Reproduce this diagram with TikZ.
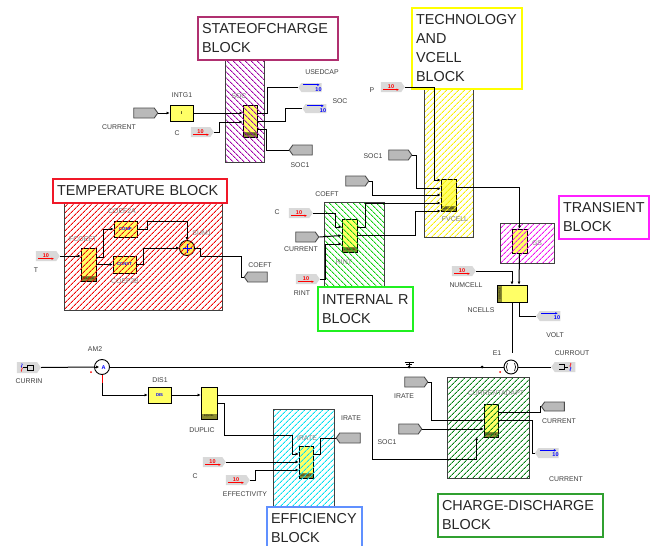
\documentclass[tikz,border=0pt]{standalone}
\usepackage{fontspec}
\setmainfont{Liberation Sans}
\usetikzlibrary{arrows.meta,patterns.meta,shapes.symbols,calc}
\definecolor{txtgray}{gray}{0.25}
\definecolor{boxyel}{HTML}{FFFF66}
\definecolor{footol}{HTML}{8A8A30}
\definecolor{tsocc}{HTML}{B03070}
\definecolor{ttemc}{HTML}{F01828}
\definecolor{ttecc}{HTML}{FFFF00}
\definecolor{trinc}{HTML}{20F020}
\definecolor{ttrac}{HTML}{FF20FF}
\definecolor{teffc}{HTML}{6090FF}
\definecolor{tchac}{HTML}{30A030}
\definecolor{hsocc}{HTML}{A000A8}
\definecolor{htemc}{HTML}{F00000}
\definecolor{hrinc}{HTML}{10D010}
\definecolor{htecc}{HTML}{F8F000}
\definecolor{htrac}{HTML}{F010F0}
\definecolor{heffc}{HTML}{00E0F0}
\definecolor{hchac}{HTML}{008010}
\tikzset{
  x=1pt,y=-1pt,
  wire/.style={draw=black,line width=1pt},
  awire/.style={wire,-{Latex[length=3pt,width=3pt]}},
  lab/.style={font=\fontsize{6.9}{8}\selectfont,text=txtgray,inner sep=0pt},
  hlab/.style={font=\fontsize{6.9}{8}\selectfont,text=black!50,inner sep=0pt},
  ybox/.style={draw=black,line width=0.9pt,fill=boxyel,inner sep=0pt,
     font=\fontsize{4.2}{5}\selectfont\bfseries,text=blue},
  foot/.style={fill=footol,inner sep=0pt,font=\fontsize{2.6}{3}\selectfont,text=black},
  hatch/.style={draw=black!75,line width=1pt,inner sep=0pt,
     pattern={Lines[angle=#1,distance=4pt,line width=0.9pt]}},
  title/.style={fill=white,line width=1.4pt,inner sep=0pt,align=left,
     font=\fontsize{14.4}{19}\selectfont,text=black!85},
  tagbase/.style={shape=signal,signal from=nowhere,inner sep=0pt,
     minimum width=24pt,minimum height=10pt,signal pointer angle=110},
  tagr/.style={tagbase,signal to=east,draw=black!70,fill=gray!55,line width=0.9pt},
  tagl/.style={tagbase,signal to=west,draw=black!70,fill=gray!55,line width=0.9pt},
  src/.style={tagbase,signal to=east,fill=gray!30,text=red,
     font=\fontsize{5.5}{6}\selectfont\bfseries,
     path picture={\draw[red,line width=0.8pt,-{Latex[length=2.5pt,width=2.5pt]}]
        ([xshift=2.3pt,yshift=-2.7pt]path picture bounding box.west) -- ++(16,0);}},
  sink/.style={tagbase,signal to=west,fill=gray!30,text=blue,
     font=\fontsize{5.5}{6}\selectfont\bfseries,
     path picture={\draw[blue,line width=0.8pt,-{Latex[length=2.5pt,width=2.5pt]}]
        ([xshift=5pt,yshift=2.7pt]path picture bounding box.west) -- ++(16.5,0);}},
  meter/.style={shape=circle,draw=black,line width=0.9pt,fill=white,inner sep=0pt,minimum size=15pt},
  dotj/.style={shape=circle,fill=black,inner sep=0pt,minimum size=3pt},
  dotr/.style={shape=circle,fill=red,inner sep=0pt,minimum size=2pt},
}
\newcommand\bx[7][]{%
  \pgfmathsetmacro\bxW{#5-#3}\pgfmathsetmacro\bxH{#6-#4}%
  \pgfmathsetmacro\bxX{(#5+#3)/2}\pgfmathsetmacro\bxY{(#6+#4)/2}%
  \node[#1,minimum width=\bxW pt,minimum height=\bxH pt] (#2) at (\bxX,\bxY) {#7};}
\newcommand\srcten{\smash{\raisebox{-1.4pt}{10}}\hspace{13pt}}
\newcommand\sinkten{\hspace{14pt}\smash{\raisebox{-3.7pt}{10}}}
\begin{document}
\begin{tikzpicture}
\useasboundingbox (0,0) rectangle (651,546);
\fill[white] (0,0) rectangle (651,546);
% yellow boxes
\bx[ybox]{intg}{170}{105}{193}{121}{\color{black}I}
\bx[ybox]{socb}{243}{105}{257}{137}{}
\bx[foot]{socf}{244}{132}{256.5}{136.5}{SOURCE}
\bx[ybox]{fco}{81}{248}{96}{281}{}
\bx[foot]{fcof}{81.5}{276}{95.5}{280.5}{SOURCE}
\bx[ybox]{c2a}{114}{221}{137}{237}{COMP}
\bx[ybox]{c2b}{113}{256}{136}{273}{CONST}
\node[meter,fill=boxyel!85!orange,minimum size=15pt] (sum) at (187,248) {};
\bx[ybox]{rint}{342}{219}{357}{252}{}
\bx[foot]{rintf}{342.5}{247}{356.5}{251.5}{SOURCE}
\bx[ybox]{fv}{441}{179}{456}{211}{}
\bx[foot]{fvf}{441.5}{206}{455.5}{210.5}{SOURCE}
\bx[ybox]{gs}{512}{229}{527}{253}{}
\bx[ybox]{ncells}{497}{285}{527}{302}{}
\bx[foot]{ncf}{497.5}{285.5}{502}{301.5}{}
\node[foot,rotate=90] (nct) at (499.8,293.5) {SOURCE};
\bx[ybox]{dis}{148}{387}{171}{403}{DIS}
\bx[ybox]{dup}{201}{387}{217}{419}{}
\bx[foot]{dupf}{201.5}{414}{216.5}{418.5}{EQU BL}
\bx[ybox]{irb}{299}{446}{313}{478}{}
\bx[foot]{irf}{299.5}{473}{312.5}{477.5}{SOURCE}
\bx[ybox]{cub}{484}{404}{498}{437}{}
\bx[foot]{cuf}{484.5}{432}{497.5}{436.5}{SOURCE}
% hatched blocks
\bx[hatch=-45,pattern color=hsocc]{hsoc}{225}{60}{264}{162}{}
\bx[hatch=45,pattern color=htemc]{htem}{64}{203}{222}{310}{}
\bx[hatch=-45,pattern color=hrinc]{hrin}{324}{202}{384}{287}{}
\bx[hatch=45,pattern color=htecc]{htec}{424}{89}{473}{237}{}
\bx[hatch=45,pattern color=htrac]{htra}{500}{223}{554}{263}{}
\bx[hatch=45,pattern color=heffc]{heff}{273}{409}{334}{507}{}
\bx[hatch=45,pattern color=hchac]{hcha}{447}{377}{529}{478}{}
% labels on hatching
\node[hlab] (lsoc) at (239,96) {SOC};
\node[hlab] (lc2a) at (122,211) {COEF2A};
\node[hlab] (lfco) at (83,239) {FCOEFT};
\node[hlab] (lc2b) at (125,281) {COEF2B};
\node[hlab] (lsum) at (202,233) {SUM1};
\node[hlab] (lrint) at (344,262) {RINT};
\node[hlab] (lfv) at (455,219) {FVCELL};
\node[hlab] (lgs) at (537,243) {GS};
\node[hlab] (lira) at (307,438) {IRATE};
\node[hlab] (lcur) at (496,393) {CURRENTADAPT};
% title boxes
\bx[title,draw=tsocc,text width=132pt]{tsoc}{198}{17}{338}{60}{STATEOFCHARGE\\BLOCK}
\bx[title,draw=ttemc,text width=166pt]{ttem}{53}{179}{227}{203}{TEMPERATURE BLOCK}
\bx[title,draw=ttecc,text width=102pt]{ttec}{412}{8}{522}{89}{TECHNOLOGY\\AND\\VCELL\\BLOCK}
\bx[title,draw=trinc,text width=87pt]{trin}{318}{287}{413}{331}{INTERNAL R\\BLOCK}
\bx[title,draw=ttrac,text width=82pt]{ttra}{559}{196}{649}{239}{TRANSIENT\\BLOCK}
\bx[title,draw=teffc,text width=87pt]{teff}{267}{507}{362}{550}{EFFICIENCY\\BLOCK}
\bx[title,draw=tchac,text width=157pt]{tcha}{438}{494}{603}{537}{CHARGE-DISCHARGE\\BLOCK}
% tags
\bx[tagr]{tcur}{132}{108}{156}{118}{}
\bx[src]{sc1}{189}{127}{212}{137}{\srcten}
\bx[sink]{susd}{300}{83}{323}{92}{\sinkten}
\bx[sink]{ssoc}{304}{104}{328}{113}{\sinkten}
\bx[tagl]{tsoc1}{291}{145}{314}{155}{}
\bx[src]{st}{34}{251}{58}{261}{\srcten}
\bx[tagl]{tcoe}{246}{272}{269}{282}{}
\bx[src]{sc2}{287}{208}{311}{218}{\srcten}
\bx[tagr]{tcur2}{294}{232}{317}{242}{}
\bx[src]{srin}{294}{274}{318}{284}{\srcten}
\bx[tagr]{tsoc2}{387}{150}{410}{160}{}
\bx[tagr]{tcoe2}{344}{176}{367}{186}{}
\bx[src]{sp}{379}{82}{403}{92}{\srcten}
\bx[src]{snum}{450}{266}{474}{276}{\srcten}
\bx[sink]{svol}{538}{311}{562}{321}{\sinkten}
\bx[src]{sc3}{201}{457}{224}{467}{\srcten}
\bx[src]{seff}{224}{475}{248}{485}{\srcten}
\bx[tagl]{tira}{338}{433}{362}{443}{}
\bx[tagr]{tira2}{403}{377}{426}{387}{}
\bx[tagr]{tsoc3}{397}{424}{420}{434}{}
\bx[tagl]{tcur3}{543}{402}{566}{411}{}
\bx[sink]{scur}{537}{448}{560}{458}{\sinkten}
\bx[src,path picture={}]{pin}{15}{362}{39}{373}{}
\bx[sink,path picture={}]{pout}{553}{362}{577}{372}{}
% meters
\node[meter] (am) at (102,367) {};
\node[meter,minimum size=14pt] (e1) at (511,367) {};
\node[dotr] (r1) at (91,372) {};
\node[dotr] (r2) at (500,372) {};
\node[font=\fontsize{5.5}{6}\selectfont\bfseries,text=blue,inner sep=0pt] (ama) at (103.5,368) {A};
\draw[line width=0.8pt,-{Latex[length=3pt,width=3pt]}] (am.west) -- ++(5,0);
\draw[line width=0.6pt] (e1.center) ++(-3.5,4) arc (150:210:8);
\draw[line width=0.6pt] (e1.center) ++(3.5,4) arc (30:-30:8);
\draw[blue,line width=0.6pt] ([yshift=-4.5pt]sum.center) -- ([yshift=4.5pt]sum.center);
\draw[blue,line width=0.6pt] ([xshift=-4.5pt]sum.center) -- ([xshift=4.5pt]sum.center);
% port glyphs
\draw[line width=0.7pt] ([xshift=11pt]pin.west) -- ++(0,-2.5) -- ++(6,0) -- ++(0,5) -- ++(-6,0) -- cycle;
\draw[line width=0.7pt] ([xshift=6pt]pin.west) -- ([xshift=11pt]pin.west);
\draw[blue,line width=0.6pt] ([xshift=5pt,yshift=4pt]pin.west) .. controls ++(2,1) and ++(-2,-1) .. ([xshift=5pt]pin.west);
\draw[red,line width=0.6pt] ([xshift=5pt]pin.west) .. controls ++(2,1) and ++(-2,-1) .. ([xshift=5pt,yshift=-4pt]pin.west);
\draw[line width=0.7pt] ([xshift=-11pt]pout.east) -- ++(0,-2.5) -- ++(-5,0);
\draw[line width=0.7pt] ([xshift=-11pt]pout.east) -- ++(0,2.5) -- ++(-5,0);
\draw[line width=0.7pt] ([xshift=-11pt]pout.east) -- ([xshift=-7pt]pout.east);
\draw[red,line width=0.6pt] ([xshift=-5pt,yshift=4pt]pout.east) .. controls ++(2,1) and ++(-2,-1) .. ([xshift=-5pt]pout.east);
\draw[blue,line width=0.6pt] ([xshift=-5pt]pout.east) .. controls ++(2,1) and ++(-2,-1) .. ([xshift=-5pt,yshift=-4pt]pout.east);
% state of charge wires
\draw[awire] (tcur.east) -- (intg.west);
\draw[awire] (intg.east) -- ([yshift=8pt]socb.west);
\draw[awire] (sc1.east) -- ++(6,0) |- ([yshift=-1pt]socb.west);
\draw[wire] ([yshift=8pt]socb.east) -- ++(10,0) |- (susd.west);
\draw[wire] (socb.east) -- ++(28,0) |- (ssoc.west);
\draw[wire] ([yshift=-8pt]socb.east) -- ++(9,0) |- (tsoc1.west);
% temperature wires
\draw[awire] (st.east) -- ([yshift=8.5pt]fco.west);
\draw[awire] ([yshift=7.5pt]fco.east) -- ++(7,0) |- (c2a.west);
\draw[awire] (fco.east) -- (c2b.west);
\draw[awire] (c2a.east) -- ++(10,0) -- ++(0,-8) -| (sum.north);
\draw[awire] (c2b.east) -- ++(7,0) |- (sum.west);
\draw[wire] (sum.east) -- ++(6,0) -- ++(0,8) -- ++(41,0) |- (tcoe.west);
% internal R wires
\draw[awire] (sc2.east) -- ++(23,0) |- ([yshift=8.5pt]rint.west);
\draw[awire] (tcur2.east) -- (rint.west);
\draw[awire] (srin.east) -- ++(6,0) |- ([yshift=-8.5pt]rint.west);
% technology wires
\draw[awire] (sp.east) -- ++(30,0) |- ([yshift=15pt]fv.west);
\draw[awire] (tsoc2.east) -- ++(4,0) |- ([yshift=6.3pt]fv.west);
\draw[awire] (tcoe2.east) -- ++(3,0) |- (fv.west);
\draw[awire] ([yshift=8.5pt]rint.east) -- ++(8,0) |- ([yshift=-8pt]fv.west);
\draw[awire] (rint.east) -- ++(58,0) |- ([yshift=-16pt]fv.west);
% transient wires
\draw[awire] ([yshift=8pt]fv.east) -| (gs.north);
\draw[awire] (gs.south) -- ([xshift=7pt]ncells.north);
\draw[awire] (snum.east) -| (ncells.north);
\draw[wire,shorten >=7pt] (ncells.south) -- (ncells.south |- e1.north);
\draw[wire] ([xshift=7pt]ncells.south) |- (svol.west);
% power line
\draw[wire] (pin.east) -- (am.west);
\draw[wire] (am.east) -- (e1.west);
\draw[wire] (e1.east) -- (pout.west);
\node[dotj] (j1) at (409,367) {};
\node[dotj] (j2) at (482,367) {};
\draw[wire] (j1.center) -- ++(0,-5);
\draw[wire] ($(j1.center)+(-4.5,-5)$) -- ++(9,0);
\draw[wire] ($(j1.center)+(-3,-3)$) -- ++(6,0);
% distribution wires
\draw[awire] ([yshift=-8pt]am.south) |- (dis.west);
\draw[line width=1pt,red] (am.south) -- ++(0,8);
\draw[awire] (dis.east) -- ([yshift=8pt]dup.west);
\draw[awire] ([yshift=8pt]dup.east) -- ++(155,0) -- ++(0,64) -| ([xshift=-7pt,yshift=-16.5pt]cub.west);
\draw[awire] (dup.east) -- ++(7,0) -- ++(0,32) -- ++(68,0) |- ([yshift=8pt]irb.west);
\draw[awire] (sc3.east) -- (irb.west);
\draw[awire] (seff.east) -- ++(6,0) |- ([yshift=-8pt]irb.west);
\draw[wire] ([yshift=8pt]irb.east) -- ++(7,0) |- (tira.west);
% charge wires
\draw[awire] (tira2.east) -- ++(3,0) |- (cub.west);
\draw[awire] (tsoc3.east) -- (cub.west |- tsoc3.east);
\draw[wire] ([yshift=8.5pt]cub.east) -- ++(42,0) |- (tcur3.west);
\draw[wire] (cub.east) -- ++(34,0) |- (scur.west);
% plain labels
\node[lab] (a1) at (182,95) {INTG1};
\node[lab] (a2) at (119,127) {CURRENT};
\node[lab] (a3) at (177,133) {C};
\node[lab] (a4) at (322,72) {USEDCAP};
\node[lab] (a5) at (340,101) {SOC};
\node[lab] (a6) at (300,165) {SOC1};
\node[lab] (a7) at (36,270) {T};
\node[lab] (a8) at (260,265) {COEFT};
\node[lab] (a9) at (327,194) {COEFT};
\node[lab] (a10) at (277,212) {C};
\node[lab] (a11) at (301,249) {CURRENT};
\node[lab] (a12) at (302,293) {RINT};
\node[lab] (a13) at (373,156) {SOC1};
\node[lab] (a14) at (372,90) {P};
\node[lab] (a15) at (466,285) {NUMCELL};
\node[lab] (a16) at (481,310) {NCELLS};
\node[lab] (a17) at (555,335) {VOLT};
\node[lab] (a18) at (497,353) {E1};
\node[lab] (a19) at (572,353) {CURROUT};
\node[lab] (a20) at (29,381) {CURRIN};
\node[lab] (a21) at (95,349) {AM2};
\node[lab] (a22) at (160,380) {DIS1};
\node[lab] (a23) at (202,430) {DUPLIC};
\node[lab] (a24) at (351,418) {IRATE};
\node[lab] (a25) at (195,476) {C};
\node[lab] (a26) at (245,494) {EFFECTIVITY};
\node[lab] (a27) at (404,396) {IRATE};
\node[lab] (a28) at (387,442) {SOC1};
\node[lab] (a29) at (559,421) {CURRENT};
\node[lab] (a30) at (566,479) {CURRENT};
\end{tikzpicture}
\end{document}
